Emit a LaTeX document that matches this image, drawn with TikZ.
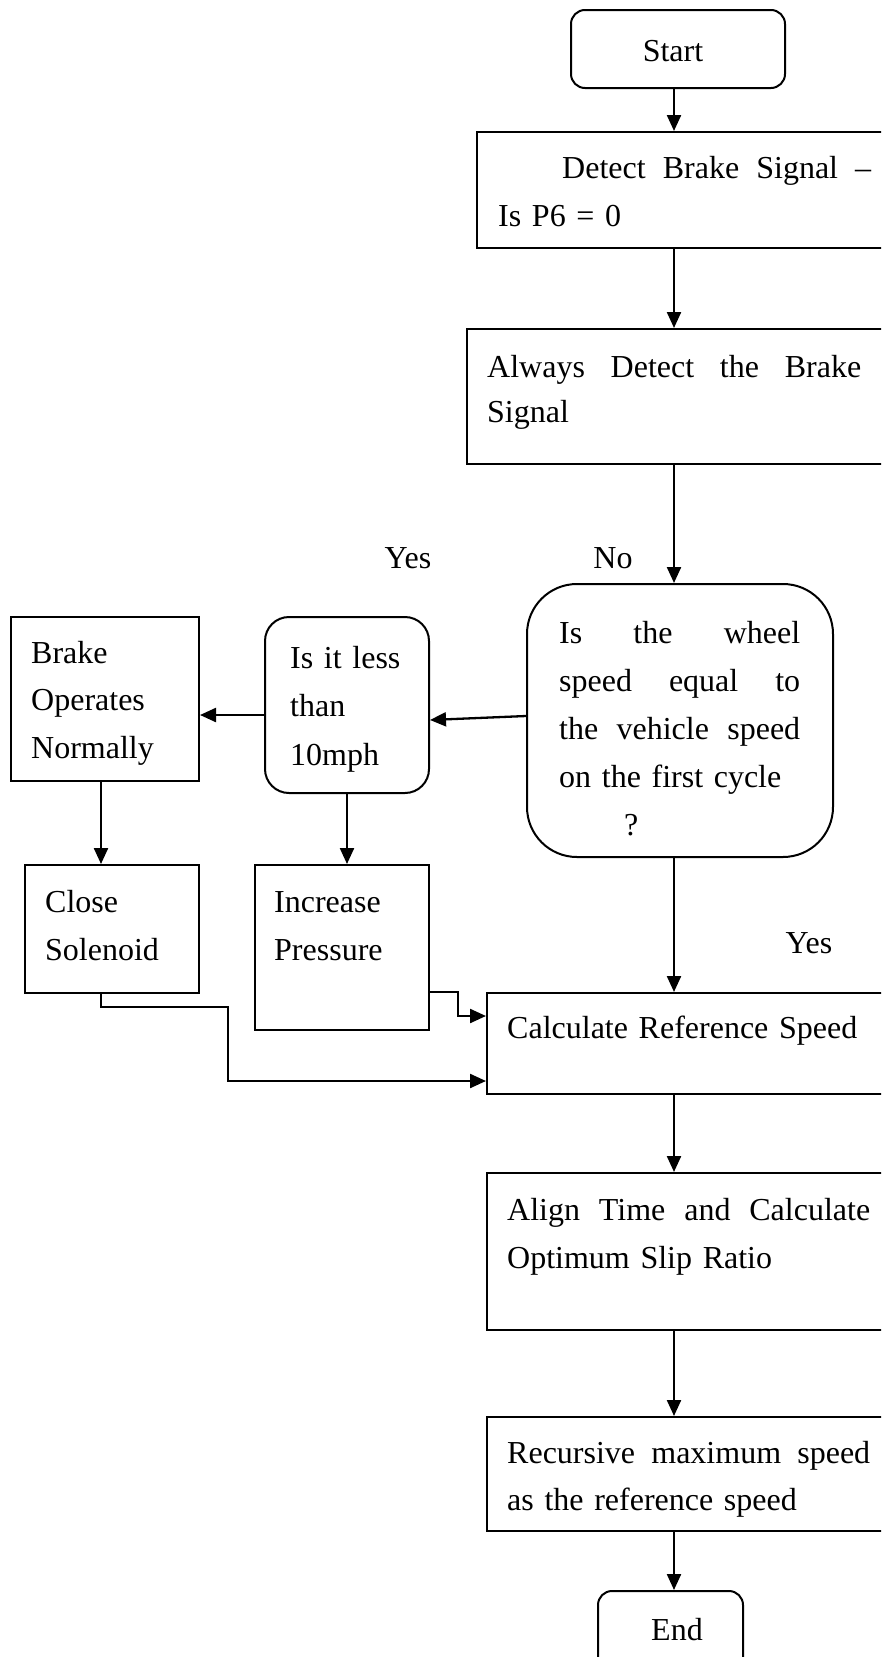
\documentclass[tikz,border=0pt]{standalone}
\usepackage{fontspec}
\setmainfont{Liberation Serif}
\usetikzlibrary{arrows.meta,calc}
\tikzset{
  box/.style={draw, line width=2pt, inner sep=0pt, anchor=north west},
  rbox/.style={box, rounded corners=#1},
  txt/.style={inner sep=0pt, anchor=base west, align=left,
              font=\fontsize{32}{48}\selectfont},
  lbl/.style={inner sep=0pt, anchor=base, font=\fontsize{32}{48}\selectfont},
  arr/.style={line width=2.3pt, -{Triangle[length=16pt,width=14pt]}},
}
% box: style, name, left, top, right, bottom (y grows downwards)
\newcommand\bx[6]{%
  \node[#1, minimum width={#5-#3}, minimum height={#6-#4}] (#2) at (#3,#4) {};}
% a justified line of fixed width
\newcommand\jl[2]{\leavevmode\hbox to #1{#2}}
\begin{document}
\begin{tikzpicture}[x=1pt,y=-1pt]
\useasboundingbox (0,0) rectangle (881,1657);
\fill[white] (0,0) rectangle (881,1657);
\clip (0,0) rectangle (881,1657);

% ---- boxes ----
\bx{rbox=14pt}{start}{570}{9}{784}{87}
\bx{box}{det}{476}{131}{950}{247}
\bx{box}{alw}{466}{328}{950}{463}
\bx{rbox=50pt}{dec}{526}{583}{832}{856}
\bx{rbox=24pt}{less}{264}{616}{428}{792}
\bx{box}{brake}{10}{616}{198}{780}
\bx{box}{close}{24}{864}{198}{992}
\bx{box}{inc}{254}{864}{428}{1029}
\bx{box}{calc}{486}{992}{950}{1093}
\bx{box}{align}{486}{1172}{950}{1329}
\bx{box}{rec}{486}{1416}{950}{1530}
\bx{rbox=14pt}{end}{597}{1590}{742}{1720}

% ---- texts ----
\node[lbl] (start-t) at (673,61) {Start};
\node[txt, text width=373pt] (det-t) at (498,178)
  {\jl{373pt}{\hspace{64pt}Detect\hfill Brake\hfill Signal\hfill –}\\Is P6 = 0};
\node[txt, text width=374pt, font=\fontsize{32}{45}\selectfont] (alw-t) at (487,377)
  {\jl{374pt}{Always\hfill Detect\hfill the\hfill Brake}\\Signal};
\node[lbl] (yes1) at (408,568) {Yes};
\node[lbl] (no1) at (613,568) {No};
\node[txt, text width=241pt] (dec-t) at (559,643)
  {\jl{241pt}{Is\hfill the\hfill wheel}\\
   \jl{241pt}{speed\hfill equal\hfill to}\\
   \jl{241pt}{the\hfill vehicle\hfill speed}\\
   on the first cycle\\
   \hspace*{65pt}?};
\node[txt, text width=130pt, font=\fontsize{32}{48.5}\selectfont] (less-t) at (290,668)
  {Is it less\\than\\10mph};
\node[txt, text width=160pt, font=\fontsize{32}{47.5}\selectfont] (brake-t) at (31,663)
  {Brake\\Operates\\Normally};
\node[txt, text width=150pt] (close-t) at (45,912) {Close\\Solenoid};
\node[txt, text width=150pt] (inc-t) at (274,912) {Increase\\Pressure};
\node[lbl] (yes2) at (809,953) {Yes};
\node[txt, text width=370pt] (calc-t) at (507,1038) {Calculate Reference Speed};
\node[txt, text width=363pt] (align-t) at (507,1220)
  {\jl{363pt}{Align\hfill Time\hfill and\hfill Calculate}\\Optimum Slip Ratio};
\node[txt, text width=363pt, font=\fontsize{32}{47}\selectfont] (rec-t) at (507,1463)
  {\jl{363pt}{Recursive\hfill maximum\hfill speed}\\as the reference speed};
\node[lbl] (end-t) at (677,1640) {End};

% ---- connectors ----
\coordinate (mx) at (674,0);
\coordinate (lx) at (101,0);
\draw[arr] (start.south -| mx) -- (det.north -| mx);
\draw[arr] (det.south -| mx) -- (alw.north -| mx);
\draw[arr] (alw.south -| mx) -- (dec.north -| mx);
\draw[arr] ([yshift=4.5pt]dec.west) -- ([yshift=-15pt]less.east);
\draw[arr] ([yshift=-10pt]less.west) -- ([yshift=-10pt]less.west -| brake.east);
\draw[arr] (brake.south -| lx) -- (close.north -| lx);
\draw[arr] (less.south) -- (less.south |- inc.north);
\draw[arr] (dec.south -| mx) -- (calc.north -| mx);
\draw[arr] (inc.east |- calc.north) -- ++(28,0) |- ([yshift=27.5pt]calc.west);
\draw[arr] (close.south -| lx) -- ++(0,13) -- ++(127,0) |- ([yshift=-37.5pt]calc.west);
\draw[arr] (calc.south -| mx) -- (align.north -| mx);
\draw[arr] (align.south -| mx) -- (rec.north -| mx);
\draw[arr] (rec.south -| mx) -- (end.north -| mx);
\end{tikzpicture}
\end{document}
